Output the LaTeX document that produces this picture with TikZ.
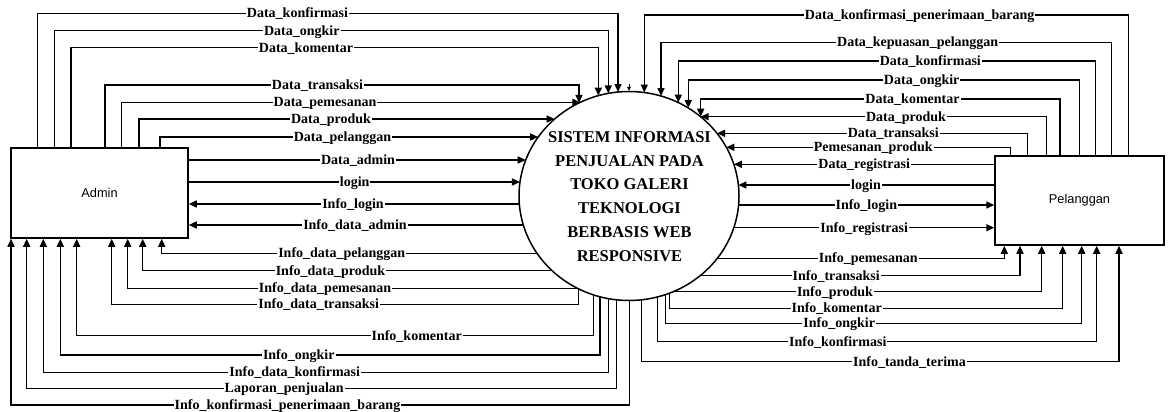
\documentclass[tikz,border=0pt]{standalone}
\usepackage{fontspec}
\setmainfont{Liberation Serif}
\newfontfamily\arialfam{Liberation Sans}
\usetikzlibrary{arrows.meta,shapes.geometric}
\newcommand\lblfont{\bfseries\fontsize{14}{16}\selectfont}
\newcommand\entfont{\arialfam\fontsize{12.8}{14}\selectfont}
\newcommand\sysfont{\bfseries\fontsize{16.5}{23.8}\selectfont}
% points on the border of the process ellipse (centre 629,196; radii 110, 104.5)
\newcommand\borderL[2]{\pgfmathsetmacro\tmpbx{629-110*sqrt(1-((#2-196)/104.5)^2)}\coordinate (#1) at (\tmpbx,#2);}
\newcommand\borderR[2]{\pgfmathsetmacro\tmpbx{629+110*sqrt(1-((#2-196)/104.5)^2)}\coordinate (#1) at (\tmpbx,#2);}
\newcommand\borderT[2]{\pgfmathsetmacro\tmpby{196-104.5*sqrt(1-((#2-629)/110)^2)}\coordinate (#1) at (#2,\tmpby);}
\newcommand\borderB[2]{\pgfmathsetmacro\tmpby{196+104.5*sqrt(1-((#2-629)/110)^2)}\coordinate (#1) at (#2,\tmpby);}
\tikzset{
  flow/.style={line width=1.5pt},
  arr/.style={flow,-{Triangle[length=8pt,width=7pt]}},
  lbl/.style={fill=white,inner xsep=1pt,inner ysep=0pt,text height=9.3pt,text depth=0pt,font=\lblfont},
  entity/.style={draw,line width=1.5pt,font=\entfont,inner sep=0pt},
}
\begin{document}
\begin{tikzpicture}[x=1pt,y=-1pt]
\useasboundingbox (0,0) rectangle (1170,412);
\node[entity,minimum width=177pt,minimum height=90pt] (admin) at (99.5,193) {Admin};
\node[entity,minimum width=169pt,minimum height=89pt] (pel) at (1079.5,200.5) {Pelanggan};
\node[ellipse,draw,line width=1.5pt,minimum width=220pt,minimum height=209pt,inner sep=0pt] (sys) at (629,196) {};
\node[font=\sysfont,align=center,inner sep=0pt] (systxt) at (629.5,196.5) {SISTEM INFORMASI\\PENJUALAN PADA\\TOKO GALERI\\TEKNOLOGI\\BERBASIS WEB\\RESPONSIVE};

% border points
\borderT{a1}{618}\borderT{a2}{608.3}\borderT{a3}{598.3}\borderT{a4}{579}
\borderL{a5}{102.3}\borderL{a6}{119}\borderL{a7}{137}\borderL{a8}{160}\borderL{a9}{182}
\borderL{a10}{204}\borderL{a11}{225}\borderL{a12}{253.3}\borderL{a13}{270.7}\borderL{a14}{288.3}
\borderB{a15}{578.5}\borderB{a16}{593.3}\borderB{a17}{600}\borderB{a18}{608.3}\borderB{a19}{616.7}\borderB{a20}{629.3}
\borderT{b1}{644.3}\borderT{b2}{661}\borderT{b3}{678.3}\borderT{b4}{688.3}\borderT{b5}{700.7}
\borderR{b6}{116.7}\borderR{b7}{133.3}\borderR{b8}{147.3}\borderR{b9}{164.3}\borderR{b10}{185}
\borderR{b11}{205}\borderR{b12}{227.7}\borderR{b13}{258.3}\borderR{b14}{275.7}\borderR{b15}{291.7}
\borderB{b16}{669.3}\borderB{b17}{665.7}\borderB{b18}{657.7}\borderB{b19}{641.7}
\coordinate (tiny) at (629,84);

% Admin -> system
\draw[arr] (admin.north -| 37.7,0) -- (37.7,13.3) -- (618,13.3) -- (a1);
\draw[arr] (admin.north -| 54.3,0) -- (54.3,30.7) -- (608.3,30.7) -- (a2);
\draw[arr] (admin.north -| 71,0) -- (71,47.7) -- (598.3,47.7) -- (a3);
\draw[arr] (admin.north -| 105,0) -- (105,85) -- (579,85) -- (a4);
\draw[arr] (admin.north -| 121.7,0) -- (121.7,102.3) -- (a5);
\draw[arr] (admin.north -| 139,0) -- (139,119) -- (a6);
\draw[arr] (admin.north -| 160,0) -- (160,137) -- (a7);
\draw[arr] (admin.east |- a8) -- (a8);
\draw[arr] (admin.east |- a9) -- (a9);
% system -> Admin
\draw[arr] (a10) -- (admin.east |- a10);
\draw[arr] (a11) -- (admin.east |- a11);
\draw[arr] (a12) -- (161.7,253.3) -- (admin.south -| 161.7,0);
\draw[arr] (a13) -- (142.7,270.7) -- (admin.south -| 142.7,0);
\draw[arr] (a14) -- (127.7,288.3) -- (admin.south -| 127.7,0);
\draw[arr] (a15) -- (578.5,304.3) -- (111.7,304.3) -- (admin.south -| 111.7,0);
\draw[arr] (a16) -- (593.3,335.7) -- (76.7,335.7) -- (admin.south -| 76.7,0);
\draw[arr] (a17) -- (600,355) -- (60.3,355) -- (admin.south -| 60.3,0);
\draw[arr] (a18) -- (608.3,372.3) -- (43.3,372.3) -- (admin.south -| 43.3,0);
\draw[arr] (a19) -- (616.7,388.3) -- (26.7,388.3) -- (admin.south -| 26.7,0);
\draw[arr] (a20) -- (629.3,405) -- (11,405) -- (admin.south -| 11,0);

% Pelanggan -> system
\draw[arr] (pel.north -| 1128.3,0) -- (1128.3,15) -- (644.3,15) -- (b1);
\draw[arr] (pel.north -| 1111.7,0) -- (1111.7,42.3) -- (661,42.3) -- (b2);
\draw[arr] (pel.north -| 1095.7,0) -- (1095.7,61) -- (678.3,61) -- (b3);
\draw[arr] (pel.north -| 1079.3,0) -- (1079.3,80) -- (688.3,80) -- (b4);
\draw[arr] (pel.north -| 1060,0) -- (1060,99) -- (700.7,99) -- (b5);
\draw[arr] (pel.north -| 1046.7,0) -- (1046.7,116.7) -- (b6);
\draw[arr] (pel.north -| 1027.7,0) -- (1027.7,133.3) -- (b7);
\draw[arr] (pel.north -| 1010.7,0) -- (1010.7,147.3) -- (b8);
\draw[arr] (pel.west |- b9) -- (b9);
\draw[arr] (pel.west |- b10) -- (b10);
% system -> Pelanggan
\draw[arr] (b11) -- (pel.west |- b11);
\draw[arr] (b12) -- (pel.west |- b12);
\draw[arr] (b13) -- (1004.3,258.3) -- (pel.south -| 1004.3,0);
\draw[arr] (b14) -- (1020,275.7) -- (pel.south -| 1020,0);
\draw[arr] (b15) -- (1041.7,291.7) -- (pel.south -| 1041.7,0);
\draw[arr] (b16) -- (669.3,308.3) -- (1062.7,308.3) -- (pel.south -| 1062.7,0);
\draw[arr] (b17) -- (665.7,323.3) -- (1081.7,323.3) -- (pel.south -| 1081.7,0);
\draw[arr] (b18) -- (657.7,341.7) -- (1096.7,341.7) -- (pel.south -| 1096.7,0);
\draw[arr] (b19) -- (641.7,361.7) -- (1119,361.7) -- (pel.south -| 1119,0);

\draw[line width=0.6pt,-{Triangle[length=4pt,width=4pt]}] (tiny) -- (sys.north);

% labels, left
\node[lbl] (l1) at (297.5,13.3) {Data\_konfirmasi};
\node[lbl] (l2) at (301.8,30.7) {Data\_ongkir};
\node[lbl] (l3) at (306,47.7) {Data\_komentar};
\node[lbl] (l4) at (317.5,85) {Data\_transaksi};
\node[lbl] (l5) at (325,102.3) {Data\_pemesanan};
\node[lbl] (l6) at (331,119) {Data\_produk};
\node[lbl] (l7) at (342.5,137) {Data\_pelanggan};
\node[lbl] (l8) at (358,160) {Data\_admin};
\node[lbl] (l9) at (354.7,182) {login};
\node[lbl] (l10) at (353,204) {Info\_login};
\node[lbl] (l11) at (355,225) {Info\_data\_admin};
\node[lbl] (l12) at (341.7,253.3) {Info\_data\_pelanggan};
\node[lbl] (l13) at (330.5,270.7) {Info\_data\_produk};
\node[lbl] (l14) at (325,288.3) {Info\_data\_pemesanan};
\node[lbl] (l15) at (318.7,304.3) {Info\_data\_transaksi};
\node[lbl] (l16) at (416.7,335.7) {Info\_komentar};
\node[lbl] (l17) at (298.8,355) {Info\_ongkir};
\node[lbl] (l18) at (294.7,372.3) {Info\_data\_konfirmasi};
\node[lbl] (l19) at (284.2,388.3) {Laporan\_penjualan};
\node[lbl] (l20) at (287.5,405) {Info\_konfirmasi\_penerimaan\_barang};
% labels, right
\node[lbl] (r1) at (919.7,15) {Data\_konfirmasi\_penerimaan\_barang};
\node[lbl] (r2) at (917.7,42.3) {Data\_kepuasan\_pelanggan};
\node[lbl] (r3) at (930.3,61) {Data\_konfirmasi};
\node[lbl] (r4) at (921.7,80) {Data\_ongkir};
\node[lbl] (r5) at (912.5,99) {Data\_komentar};
\node[lbl] (r6) at (906,116.7) {Data\_produk};
\node[lbl] (r7) at (893.3,133.3) {Data\_transaksi};
\node[lbl] (r8) at (873.3,147.3) {Pemesanan\_produk};
\node[lbl] (r9) at (864.2,164.3) {Data\_registrasi};
\node[lbl] (r10) at (866,185) {login};
\node[lbl] (r11) at (866.3,205) {Info\_login};
\node[lbl] (r12) at (864.2,227.7) {Info\_registrasi};
\node[lbl] (r13) at (868.3,258.3) {Info\_pemesanan};
\node[lbl] (r14) at (836.2,275.7) {Info\_transaksi};
\node[lbl] (r15) at (835,291.7) {Info\_produk};
\node[lbl] (r16) at (836.7,308.3) {Info\_komentar};
\node[lbl] (r17) at (839.2,323.3) {Info\_ongkir};
\node[lbl] (r18) at (837.8,341.7) {Info\_konfirmasi};
\node[lbl] (r19) at (909.5,361.7) {Info\_tanda\_terima};
\end{tikzpicture}
\end{document}
